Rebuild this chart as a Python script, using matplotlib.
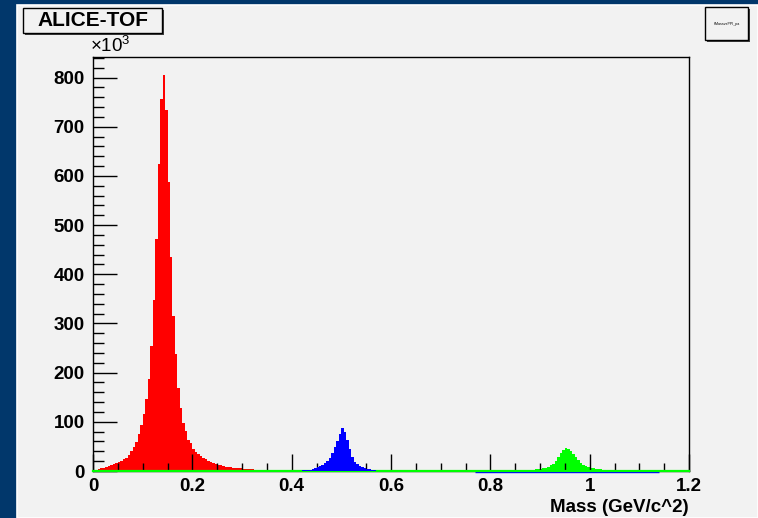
import numpy as np
import matplotlib.pyplot as plt
from matplotlib.patches import Rectangle
from matplotlib.transforms import offset_copy

plt.rcParams['font.family'] = ['Liberation Sans', 'DejaVu Sans']
plt.rcParams['mathtext.fontset'] = 'custom'
plt.rcParams['mathtext.rm'] = 'Liberation Sans'

# Massenspektrum (Einträge in 10^3), Binbreite 0.005 GeV/c^2
bin_width = 0.005

# Pionen
pi_start = 0.0
pi_counts = [2, 3, 4, 6, 7, 9, 11, 13, 15, 17, 19, 21, 24, 27, 33, 41, 49, 59, 75, 93,
             115, 147, 188, 254, 348, 471, 624, 756, 805, 735, 587, 435, 315, 237, 169, 129,
             98, 81, 64, 56, 44, 39, 35, 30, 27, 24, 21, 19, 17, 15, 13, 12, 10, 9, 8, 8,
             7, 7, 6, 6, 5, 5, 4, 4, 4, 3, 3, 3, 3, 3, 3, 3, 3, 3, 3, 3]

# Kaonen
ka_start = 0.420
ka_counts = [2, 3, 3, 3, 4, 6, 8, 10, 13, 16, 20, 27, 36, 48, 62, 76, 87, 80, 64, 44,
             28, 18, 14, 11, 8, 6, 5, 4, 3, 3]
ka_tail = (0.77, 1.14)

# Protonen
pr_start = 0.870
pr_counts = [1, 2, 3, 3, 4, 5, 5, 6, 7, 9, 12, 15, 21, 28, 36, 42, 46, 45, 41, 35,
             28, 22, 17, 13, 11, 9, 7, 6, 5, 5, 4, 3, 3, 2, 2, 1]

x_ticks = [0, 0.2, 0.4, 0.6, 0.8, 1.0, 1.2]
x_tick_labels = ['0', '0.2', '0.4', '0.6', '0.8', '1', '1.2']
y_ticks = [0, 100, 200, 300, 400, 500, 600, 700, 800]
y_tick_labels = ['0', '100', '200', '300', '400', '500', '600', '700', '800']


def histo(ax, start, counts, farbe, z):
    kanten = np.round(start + bin_width * np.arange(len(counts) + 1), 4)
    werte = list(counts) + [counts[-1]]
    ax.fill_between(kanten, werte, step='post', color=farbe, lw=0, zorder=z,
                    antialiased=False)


W, H = 758, 518
hg = '#f2f2f2'
fs = 13.5
fig = plt.figure(figsize=(W / 100, H / 100), dpi=100)
fig.patch.set_facecolor('#01376b')

# helles Canvas
fig.add_artist(Rectangle((17 / W, 0), 1 - 17 / W, (H - 5) / H, transform=fig.transFigure,
                         facecolor=hg, edgecolor='none', zorder=-10))
fig.add_artist(Rectangle((17 / W, 0), 1 - 17 / W, (H - 5) / H, transform=fig.transFigure,
                         facecolor='none', edgecolor='white', lw=1.2, zorder=-9))

ax = fig.add_axes([93 / W, 47 / H, 596 / W, 414 / H])
ax.set_facecolor(hg)

histo(ax, pi_start, pi_counts, '#ff0000', 1)
histo(ax, pr_start, pr_counts, '#00ff00', 1)
ax.hlines(0, ka_tail[0], ka_tail[1], color='#0000ff', lw=1, zorder=2.9, clip_on=False,
          transform=offset_copy(ax.transData, fig=fig, y=-1, units='dots'))
ax.axhline(0, color='#00ff00', lw=1.6, zorder=3, clip_on=False)
histo(ax, ka_start, ka_counts, '#0000ff', 3.2)

ax.set_xlim(0, 1.2)
ax.set_ylim(0, 842)

for s in ax.spines.values():
    s.set_color('black')
    s.set_linewidth(1)

ax.set_xticks(x_ticks)
ax.set_xticklabels(x_tick_labels, fontsize=fs, fontweight='bold')
ax.set_xticks(np.arange(0, 1.2001, 0.05), minor=True)
ax.set_yticks(y_ticks)
ax.set_yticklabels(y_tick_labels, fontsize=fs, fontweight='bold')
ax.set_yticks(np.arange(0, 841, 20), minor=True)
ax.tick_params(axis='x', which='major', direction='in', length=12, width=1, pad=5)
ax.tick_params(axis='x', which='minor', direction='in', length=6, width=1)
ax.tick_params(axis='y', which='major', direction='in', length=17, width=1, pad=6)
ax.tick_params(axis='y', which='minor', direction='in', length=8, width=1)

ax.set_xlabel('Mass (GeV/c^2)', loc='right', fontsize=fs, fontweight='bold', labelpad=3)

fig.text(90 / W, 1 - 56 / H, r'×10$^{3}$', fontsize=fs, ha='left', va='bottom')

# Titelbox mit Schatten
fig.add_artist(Rectangle((25 / W, 1 - 35 / H), 139 / W, 25 / H, transform=fig.transFigure,
                         facecolor='#404040', edgecolor='none'))
fig.add_artist(Rectangle((23 / W, 1 - 33 / H), 139 / W, 25 / H, transform=fig.transFigure,
                         facecolor=hg, edgecolor='black', lw=1))
fig.text(92.5 / W, 1 - 21 / H, 'ALICE-TOF', fontsize=15, fontweight='bold',
         ha='center', va='center')

# Statistikbox
fig.add_artist(Rectangle((707 / W, 1 - 42 / H), 43 / W, 33 / H, transform=fig.transFigure,
                         facecolor='#404040', edgecolor='none'))
fig.add_artist(Rectangle((705 / W, 1 - 40 / H), 43 / W, 33 / H, transform=fig.transFigure,
                         facecolor=hg, edgecolor='black', lw=1))
fig.text(726.5 / W, 1 - 24 / H, 'hMassvsPPI_pa', fontsize=2.6, ha='center', va='center')

fig.savefig('out.png', dpi=100, facecolor=fig.get_facecolor())
